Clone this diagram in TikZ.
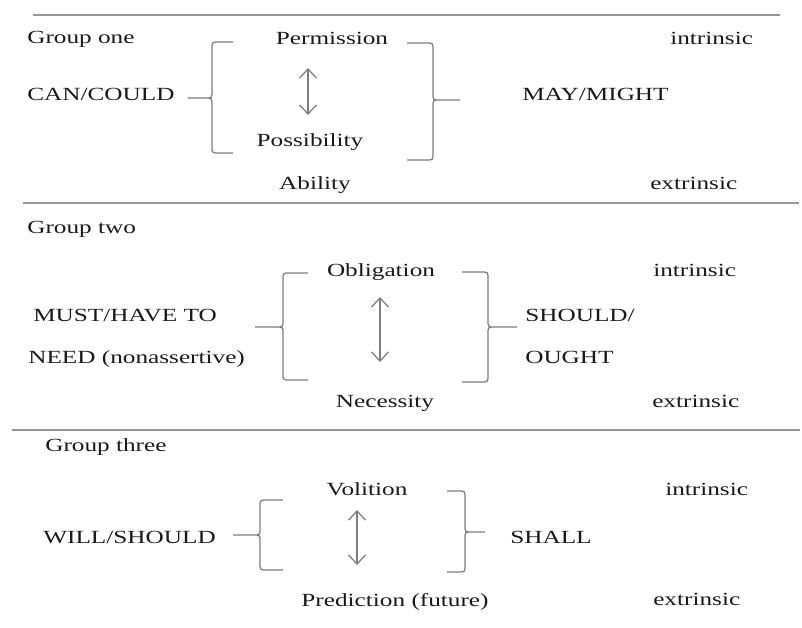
\documentclass[tikz,border=0pt]{standalone}
\usepackage{fontspec}
\setmainfont[FakeStretch=1.36]{Liberation Serif}
\usepackage{tikz}
\usetikzlibrary{positioning, arrows.meta}
\definecolor{RuleGray}{RGB}{150, 150, 150}
\definecolor{BraceGray}{RGB}{125, 125, 125}
\definecolor{TextDark}{RGB}{25, 25, 25}

\begin{document}
\begin{tikzpicture}[x=0.025cm, y=-0.025cm,
    lbl/.style={inner sep=0pt, anchor=mid west, text=TextDark, font=\fontsize{13.2}{15}\selectfont},
    ctr/.style={inner sep=0pt, anchor=mid, text=TextDark, font=\fontsize{13.2}{15}\selectfont},
    rule/.style={RuleGray, line width=1.1pt},
    brace/.style={BraceGray, line width=0.9pt},
    updown/.style={BraceGray, line width=0.9pt, {Straight Barb[length=6.5pt, width=12pt]}-{Straight Barb[length=6.5pt, width=12pt]}}]
    \useasboundingbox (0,0) rectangle (802,628);

    % Rules
    \draw[rule] (33,15) -- (780,15);
    \draw[rule] (23,203) -- (799,203);
    \draw[rule] (12,430) -- (800,430);

    % Group one
    \node[lbl] (g1) at (27,40) {Group one};
    \node[lbl] (can) at (27,97) {CAN/COULD};
    \node[ctr] (perm) at (332,41) {Permission};
    \node[ctr] (poss) at (310,143) {Possibility};
    \node[ctr] (abil) at (315,186) {Ability};
    \node[lbl] (may) at (522,97) {MAY/MIGHT};
    \node[lbl] (int1) at (670,41) {intrinsic};
    \node[lbl] (ext1) at (650,186) {extrinsic};
    \coordinate (a1top) at (308,68);
    \coordinate (a1bot) at (308,115);
    \draw[updown] (a1top) -- (a1bot);
    \draw[brace] (233,42) -- (219,42) .. controls (212,42) .. (212,49) -- (212,91)
        .. controls (212,98) .. (205,98) -- (188,98)
        (205,98) .. controls (212,98) .. (212,105) -- (212,146)
        .. controls (212,153) .. (219,153) -- (233,153);
    \draw[brace] (407,43) -- (426,43) .. controls (433,43) .. (433,50) -- (433,93)
        .. controls (433,100) .. (440,100) -- (460,100)
        (440,100) .. controls (433,100) .. (433,107) -- (433,153)
        .. controls (433,160) .. (426,160) -- (407,160);

    % Group two
    \node[lbl] (g2) at (27,230) {Group two};
    \node[lbl] (must) at (33,318) {MUST/HAVE TO};
    \node[lbl] (need) at (28,360) {NEED (nonassertive)};
    \node[ctr] (oblig) at (381,273) {Obligation};
    \node[ctr] (necess) at (385,404) {Necessity};
    \node[lbl] (should) at (525,318) {SHOULD/};
    \node[lbl] (ought) at (525,360) {OUGHT};
    \node[lbl] (int2) at (653,273) {intrinsic};
    \node[lbl] (ext2) at (652,404) {extrinsic};
    \coordinate (a2top) at (380,297);
    \coordinate (a2bot) at (380,362);
    \draw[updown] (a2top) -- (a2bot);
    \draw[brace] (308,273) -- (290,273) .. controls (283,273) .. (283,280) -- (283,320)
        .. controls (283,327) .. (276,327) -- (255,327)
        (276,327) .. controls (283,327) .. (283,334) -- (283,373)
        .. controls (283,380) .. (290,380) -- (308,380);
    \draw[brace] (462,272) -- (481,272) .. controls (488,272) .. (488,279) -- (488,320)
        .. controls (488,327) .. (495,327) -- (517,327)
        (495,327) .. controls (488,327) .. (488,334) -- (488,375)
        .. controls (488,382) .. (481,382) -- (462,382);

    % Group three
    \node[lbl] (g3) at (45,448) {Group three};
    \node[lbl] (will) at (43,540) {WILL/SHOULD};
    \node[ctr] (volit) at (367,492) {Volition};
    \node[ctr] (pred) at (395,603) {Prediction (future)};
    \node[lbl] (shall) at (510,540) {SHALL};
    \node[lbl] (int3) at (665,492) {intrinsic};
    \node[lbl] (ext3) at (653,602) {extrinsic};
    \coordinate (a3top) at (357,510);
    \coordinate (a3bot) at (357,565);
    \draw[updown] (a3top) -- (a3bot);
    \draw[brace] (283,500) -- (267,500) .. controls (260,500) .. (260,507) -- (260,528)
        .. controls (260,535) .. (253,535) -- (233,535)
        (253,535) .. controls (260,535) .. (260,542) -- (260,563)
        .. controls (260,570) .. (267,570) -- (283,570);
    \draw[brace] (447,491) -- (458,491) .. controls (465,491) .. (465,498) -- (465,525)
        .. controls (465,532) .. (472,532) -- (485,532)
        (472,532) .. controls (465,532) .. (465,539) -- (465,565)
        .. controls (465,572) .. (458,572) -- (447,572);
  \end{tikzpicture}
\end{document}
